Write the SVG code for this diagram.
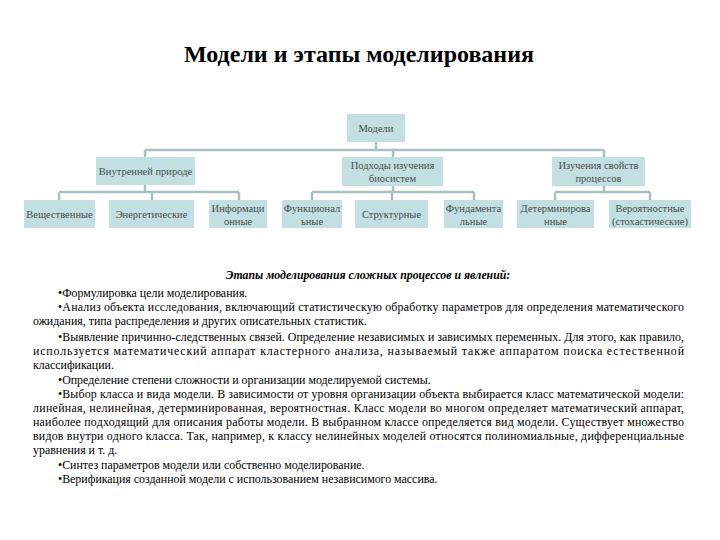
<svg xmlns="http://www.w3.org/2000/svg" width="720" height="540" viewBox="0 0 720 540">
<style>
.bx{fill:#c2e0e3;}
.bt{font-family:"Liberation Serif","Times New Roman",serif;font-size:10.5px;fill:#4a4a4a;text-anchor:middle;}
.cn{fill:none;stroke:#a7c1c3;stroke-width:2.5;}
.tt{font-family:"Liberation Serif","Times New Roman",serif;font-size:24px;font-weight:bold;fill:#000;text-anchor:middle;}
.hd{font-family:"Liberation Serif","Times New Roman",serif;font-size:11.8px;font-weight:bold;font-style:italic;fill:#000;text-anchor:middle;}
.tx{font-family:"Liberation Serif","Times New Roman",serif;font-size:11.9px;fill:#000;}
</style>
<rect width="720" height="540" fill="#fff"/>
<text class="tt" x="359" y="62">Модели и этапы моделирования</text>
<g id="connectors">
<path class="cn" d="M376,142 V150 M145,150 H604 M145,150 V157 M393,150 V157 M604,150 V157"/>
<path class="cn" d="M145,185 V192 M59,192 H239 M59,192 V200 M152,192 V200 M239,192 V200"/>
<path class="cn" d="M393,186 V192 M312,192 H474 M312,192 V200 M392,192 V200 M474,192 V200"/>
<path class="cn" d="M604,186 V192 M555,192 H650 M555,192 V200 M650,192 V200"/>
</g>
<g id="n-models"><rect class="bx" x="347" y="114" width="58" height="28"/><text class="bt" x="376" y="131.5">Модели</text></g>
<g id="n-inner"><rect class="bx" x="96" y="157" width="99" height="28"/><text class="bt" x="145.5" y="174.5">Внутренней природе</text></g>
<g id="n-approaches"><rect class="bx" x="342" y="157" width="101" height="29"/><text class="bt" x="392.5" y="168.5">Подходы изучения</text><text class="bt" x="392.5" y="181.5">биосистем</text></g>
<g id="n-props"><rect class="bx" x="552" y="157" width="93" height="29"/><text class="bt" x="598.5" y="168.5">Изучения свойств</text><text class="bt" x="598.5" y="181.5">процессов</text></g>
<g id="n-mat"><rect class="bx" x="24" y="200" width="71" height="28"/><text class="bt" x="59.5" y="217.5">Вещественные</text></g>
<g id="n-energy"><rect class="bx" x="109" y="200" width="85" height="28"/><text class="bt" x="151.5" y="217.5">Энергетические</text></g>
<g id="n-info"><rect class="bx" x="209" y="200" width="58" height="28"/><text class="bt" x="238" y="211.5">Информаци</text><text class="bt" x="238" y="224.5">онные</text></g>
<g id="n-func"><rect class="bx" x="282" y="200" width="60" height="28"/><text class="bt" x="312" y="211.5">Функционал</text><text class="bt" x="312" y="224.5">ьные</text></g>
<g id="n-struct"><rect class="bx" x="355" y="200" width="73" height="28"/><text class="bt" x="391.5" y="217.5">Структурные</text></g>
<g id="n-fund"><rect class="bx" x="444" y="200" width="59" height="28"/><text class="bt" x="473.5" y="211.5">Фундамента</text><text class="bt" x="473.5" y="224.5">льные</text></g>
<g id="n-det"><rect class="bx" x="517" y="200" width="77" height="28"/><text class="bt" x="555.5" y="211.5">Детерминирова</text><text class="bt" x="555.5" y="224.5">нные</text></g>
<g id="n-prob"><rect class="bx" x="609" y="200" width="82" height="28"/><text class="bt" x="650" y="211.5">Вероятностные</text><text class="bt" x="650" y="224.5">(стохастические)</text></g>
<text class="hd" x="368" y="279">Этапы моделирования сложных процессов и явлений:</text>
<text class="tx" x="58" y="297">•Формулировка цели моделирования.</text>
<text class="tx" x="58" y="311" textLength="626" lengthAdjust="spacing">•Анализ объекта исследования, включающий статистическую обработку параметров для определения математического</text>
<text class="tx" x="33" y="325">ожидания, типа распределения и других описательных статистик.</text>
<text class="tx" x="58" y="341" textLength="626" lengthAdjust="spacing">•Выявление причинно-следственных связей. Определение независимых и зависимых переменных. Для этого, как правило,</text>
<text class="tx" x="33" y="355" textLength="651" lengthAdjust="spacing">используется математический аппарат кластерного анализа, называемый также аппаратом поиска естественной</text>
<text class="tx" x="33" y="369">классификации.</text>
<text class="tx" x="58" y="384">•Определение степени сложности и организации моделируемой системы.</text>
<text class="tx" x="58" y="398" textLength="626" lengthAdjust="spacing">•Выбор класса и вида модели. В зависимости от уровня организации объекта выбирается класс математической модели:</text>
<text class="tx" x="33" y="412" textLength="651" lengthAdjust="spacing">линейная, нелинейная, детерминированная, вероятностная. Класс модели во многом определяет математический аппарат,</text>
<text class="tx" x="33" y="426" textLength="651" lengthAdjust="spacing">наиболее подходящий для описания работы модели. В выбранном классе определяется вид модели. Существует множество</text>
<text class="tx" x="33" y="440" textLength="651" lengthAdjust="spacing">видов внутри одного класса. Так, например, к классу нелинейных моделей относятся полиномиальные, дифференциальные</text>
<text class="tx" x="33" y="454">уравнения и т. д.</text>
<text class="tx" x="58" y="469">•Синтез параметров модели или собственно моделирование.</text>
<text class="tx" x="58" y="483">•Верификация созданной модели с использованием независимого массива.</text>
</svg>
